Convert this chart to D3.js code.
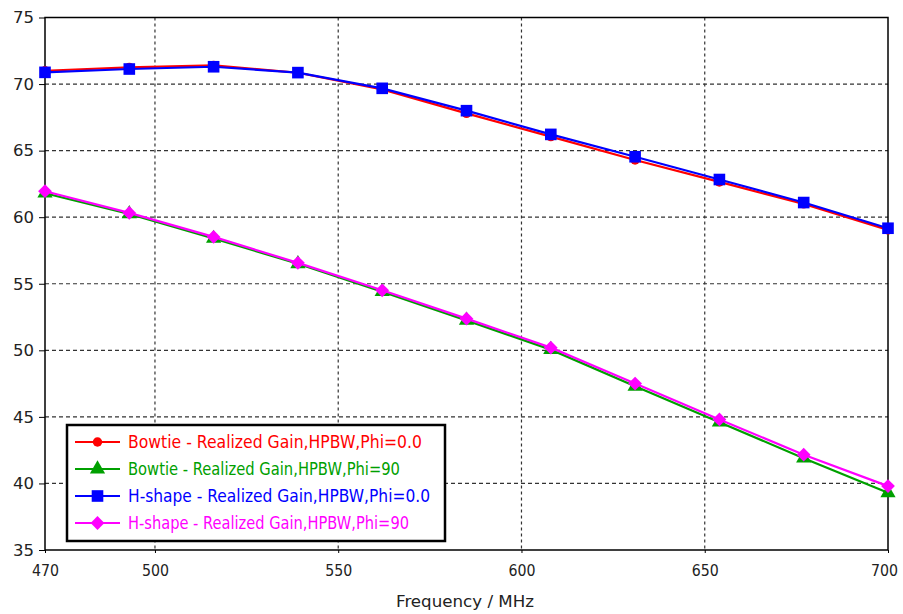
<!DOCTYPE html>
<html>
<head>
<meta charset="utf-8">
<script src="https://cdn.jsdelivr.net/npm/d3@7"></script>
<style>
  body { margin: 0; background: #fff; }
  text { font-family: "DejaVu Sans", Verdana, sans-serif; }
</style>
</head>
<body>
<svg id="chart"></svg>
<script>
var width = 903
var height = 614

// frequency points (MHz)
var freqs = [470, 493, 516, 539, 562, 585, 608, 631, 654, 677, 700]
// realized gain values
var bowtiePhi0 = [71.0, 71.25, 71.4, 70.85, 69.6, 67.8, 66.05, 64.3, 62.65, 61.0, 59.05]
var bowtiePhi90 = [61.8, 60.25, 58.4, 56.5, 54.4, 52.25, 50.05, 47.3, 44.6, 41.9, 39.3]
var hshapePhi0 = [70.88, 71.13, 71.3, 70.86, 69.68, 68.0, 66.22, 64.54, 62.83, 61.1, 59.17]
var hshapePhi90 = [61.95, 60.32, 58.52, 56.57, 54.51, 52.38, 50.2, 47.5, 44.81, 42.16, 39.8]

var xTicks = [470, 500, 550, 600, 650, 700]
var yTicks = [35, 40, 45, 50, 55, 60, 65, 70, 75]

var seriesNames = ["Bowtie - Realized Gain,HPBW,Phi=0.0", "Bowtie - Realized Gain,HPBW,Phi=90",
                   "H-shape - Realized Gain,HPBW,Phi=0.0", "H-shape - Realized Gain,HPBW,Phi=90"]
var seriesValues = [bowtiePhi0, bowtiePhi90, hshapePhi0, hshapePhi90]
var seriesColors = ["#ff0000", "#00a000", "#0000ff", "#ff00ff"]
var seriesSymbols = [d3.symbolCircle, d3.symbolTriangle, d3.symbolSquare, d3.symbolSquare]
var symbolSizes = [70, 100, 135, 95]
var symbolRotate = [0, 0, 0, 45]
var legendTextLen = [294, 272, 302, 281]

var pLeft = 45, pRight = 888, pTop = 17.5, pBottom = 550

var svg = d3.select("#chart")
    .attr("width", width)
    .attr("height", height)

var x = d3.scaleLinear().domain([470, 700]).range([pLeft, pRight])
var y = d3.scaleLinear().domain([35, 75]).range([pBottom, pTop])

// grid
svg.append("g").selectAll("line")
    .data(xTicks.filter(t => t > 470 && t < 700))
    .join("line")
    .attr("x1", d => x(d)).attr("x2", d => x(d))
    .attr("y1", pTop).attr("y2", pBottom)
    .attr("stroke", "#333").attr("stroke-width", 1.2)
    .attr("stroke-dasharray", "3,3")

svg.append("g").selectAll("line")
    .data(yTicks.filter(t => t > 35 && t < 75))
    .join("line")
    .attr("x1", pLeft).attr("x2", pRight)
    .attr("y1", d => y(d)).attr("y2", d => y(d))
    .attr("stroke", "#333").attr("stroke-width", 1.2)
    .attr("stroke-dasharray", "4,3")

// frame
svg.append("rect")
    .attr("x", pLeft).attr("y", pTop)
    .attr("width", pRight - pLeft).attr("height", pBottom - pTop)
    .attr("fill", "none").attr("stroke", "#000").attr("stroke-width", 1.5)

// axes
var yAxis = d3.axisLeft(y).tickValues(yTicks).tickSize(6).tickPadding(5)
var gy = svg.append("g").attr("transform", "translate(" + pLeft + ",0)").call(yAxis)
gy.select(".domain").remove()
gy.selectAll("text").attr("font-size", "16.5px").attr("fill", "#222")
    .attr("textLength", 21).attr("lengthAdjust", "spacingAndGlyphs")
gy.selectAll("line").attr("stroke", "#000")

var xAxis = d3.axisBottom(x).tickValues(xTicks).tickSize(5).tickPadding(9)
var gx = svg.append("g").attr("transform", "translate(0," + pBottom + ")").call(xAxis)
gx.select(".domain").remove()
gx.selectAll("text").attr("font-size", "16.5px").attr("fill", "#222")
    .attr("textLength", 27).attr("lengthAdjust", "spacingAndGlyphs")
    .attr("dx", d => d == 700 ? -4 : 0)
gx.selectAll("line").attr("stroke", "#000").attr("stroke-dasharray", "3,2")

svg.append("text")
    .attr("x", 465)
    .attr("y", 607)
    .attr("text-anchor", "middle")
    .attr("font-size", "16.5px")
    .attr("fill", "#222")
    .attr("textLength", 138)
    .attr("lengthAdjust", "spacingAndGlyphs")
    .text("Frequency / MHz")

// series
var line = d3.line().x((d, i) => x(freqs[i])).y(d => y(d))
seriesValues.forEach(function(vals, k) {
    var g = svg.append("g")
    g.append("path")
        .attr("d", line(vals))
        .attr("fill", "none")
        .attr("stroke", seriesColors[k])
        .attr("stroke-width", 2.2)
    g.selectAll("path.pt")
        .data(vals)
        .join("path")
        .attr("class", "pt")
        .attr("transform", (d, i) => "translate(" + x(freqs[i]) + "," + y(d) + ") rotate(" + symbolRotate[k] + ")")
        .attr("d", d3.symbol().type(seriesSymbols[k]).size(symbolSizes[k]))
        .attr("fill", seriesColors[k])
})

// legend
var lg = svg.append("g")
lg.append("rect")
    .attr("x", 67).attr("y", 425)
    .attr("width", 378).attr("height", 116)
    .attr("fill", "#fff").attr("stroke", "#000").attr("stroke-width", 2.5)
seriesNames.forEach(function(name, k) {
    var yy = 442 + k * 27
    lg.append("line")
        .attr("x1", 75).attr("x2", 120)
        .attr("y1", yy).attr("y2", yy)
        .attr("stroke", seriesColors[k]).attr("stroke-width", 2.2)
    lg.append("path")
        .attr("transform", "translate(97.5," + yy + ") rotate(" + symbolRotate[k] + ")")
        .attr("d", d3.symbol().type(seriesSymbols[k]).size(symbolSizes[k]))
        .attr("fill", seriesColors[k])
    lg.append("text")
        .attr("x", 128).attr("y", yy + 6)
        .attr("font-size", "17px")
        .attr("fill", seriesColors[k])
        .attr("textLength", legendTextLen[k])
        .attr("lengthAdjust", "spacingAndGlyphs")
        .text(name)
})
</script>
</body>
</html>
